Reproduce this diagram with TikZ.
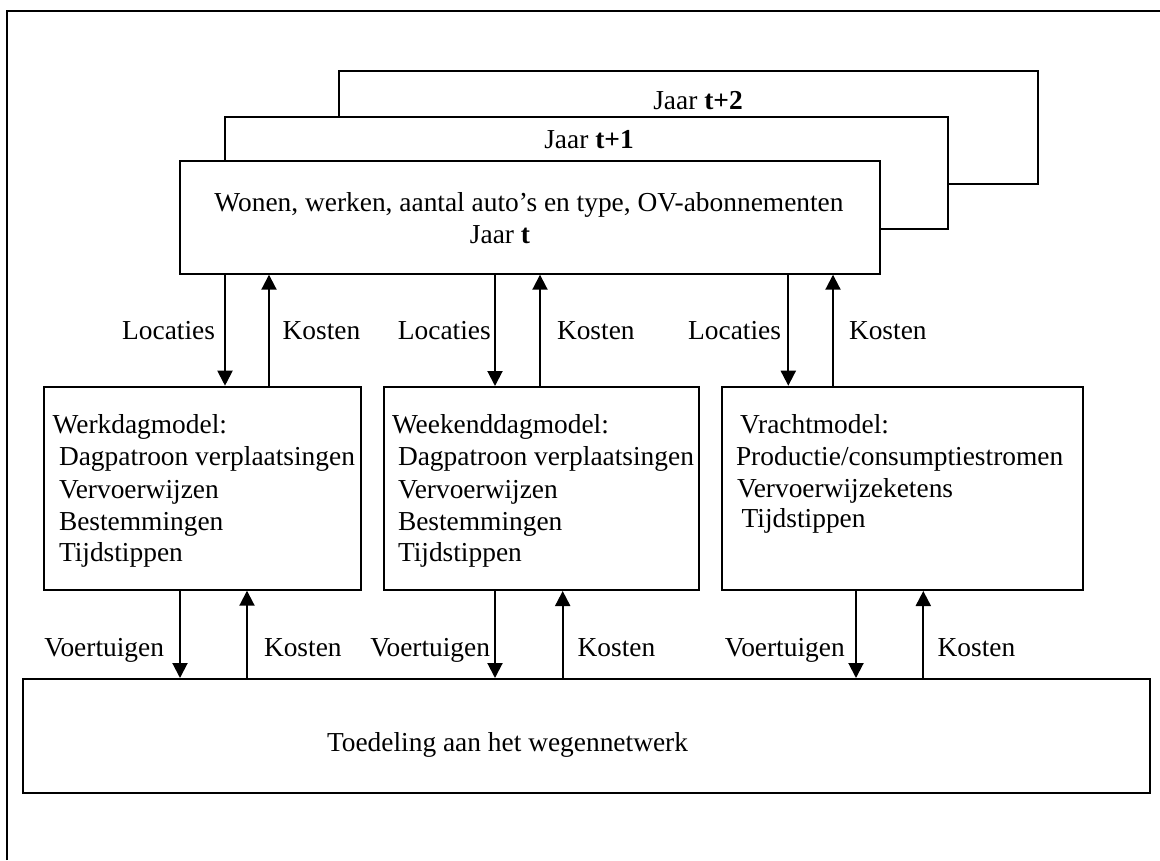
\documentclass[tikz,border=0pt]{standalone}
\usepackage{fontspec}
\setmainfont{Liberation Serif}
\usetikzlibrary{arrows.meta}
\begin{document}
\begin{tikzpicture}[x=1pt,y=-1pt,line width=2pt,
  box/.style={draw,fill=white,rectangle,inner sep=0pt,anchor=north west},
  txt/.style={inner sep=0pt,font=\fontsize{27.4}{33}\selectfont},
  tl/.style={txt,anchor=base west},
  tr/.style={txt,anchor=base east},
  tc/.style={txt,anchor=base},
  arr/.style={-{Triangle[length=15pt,width=15pt]}}]
\useasboundingbox (0,0) rectangle (1160,860);
% outer frame (top and left edges)
\coordinate (fbl) at (7,860);
\coordinate (ftl) at (7,11);
\coordinate (ftr) at (1160,11);
\draw (fbl) -- (ftl) -- (ftr);

% year boxes
\node[box,minimum width=699pt,minimum height=112.7pt] (t2box) at (337.7,70) {};
\node[box,minimum width=723pt,minimum height=112pt] (t1box) at (224,116) {};
\node[box,minimum width=700pt,minimum height=112.7pt] (tbox) at (179.3,160) {};
\node[tc] (t2lbl) at (698,109) {Jaar \textbf{t+2}};
\node[tc] (t1lbl) at (589,148) {Jaar \textbf{t+1}};
\node[tc] (tlbl1) at (529,211.7) {Wonen, werken, aantal auto’s en type, OV-abonnementen};
\node[tc] (tlbl2) at (500,243) {Jaar \textbf{t}};

% model boxes
\node[box,minimum width=316.7pt,minimum height=203pt] (werk) at (43.3,385.7) {};
\node[box,minimum width=315.6pt,minimum height=203pt] (weekend) at (382.7,386) {};
\node[box,minimum width=361.6pt,minimum height=203.3pt] (vracht) at (720.7,385.7) {};
\node[box,minimum width=1127.3pt,minimum height=114pt] (toed) at (21.7,678) {};

% model texts
\node[tl] (w1) at (51.7,433) {Werkdagmodel:};
\node[tl] (w2) at (58,465) {Dagpatroon verplaatsingen};
\node[tl] (w3) at (58,498) {Vervoerwijzen};
\node[tl] (w4) at (58,530) {Bestemmingen};
\node[tl] (w5) at (58,561) {Tijdstippen};
\node[tl] (e1) at (391,433) {Weekenddagmodel:};
\node[tl] (e2) at (397,465) {Dagpatroon verplaatsingen};
\node[tl] (e3) at (397,498) {Vervoerwijzen};
\node[tl] (e4) at (397,530) {Bestemmingen};
\node[tl] (e5) at (397,561) {Tijdstippen};
\node[tl] (v1) at (739,433) {Vrachtmodel:};
\node[tl] (v2) at (735,465) {Productie/consumptiestromen};
\node[tl] (v3) at (736,497.7) {Vervoerwijzeketens};
\node[tl] (v4) at (740.7,527) {Tijdstippen};
\node[tl] (tt) at (326,751) {Toedeling aan het wegennetwerk};

% arrow x positions
\coordinate (xL1) at (225,0);
\coordinate (xK1) at (269,0);
\coordinate (xL2) at (495,0);
\coordinate (xK2) at (540,0);
\coordinate (xL3) at (788.3,0);
\coordinate (xK3) at (833,0);
\coordinate (xV1) at (180,0);
\coordinate (xC1) at (247,0);
\coordinate (xV2) at (495,0);
\coordinate (xC2) at (562.7,0);
\coordinate (xV3) at (856,0);
\coordinate (xC3) at (923.3,0);

% upper arrows
\draw[arr] (tbox.south -| xL1) -- (werk.north -| xL1);
\draw[arr] (werk.north -| xK1) -- (tbox.south -| xK1);
\draw[arr] (tbox.south -| xL2) -- (weekend.north -| xL2);
\draw[arr] (weekend.north -| xK2) -- (tbox.south -| xK2);
\draw[arr] (tbox.south -| xL3) -- (vracht.north -| xL3);
\draw[arr] (vracht.north -| xK3) -- (tbox.south -| xK3);
% lower arrows
\draw[arr] (werk.south -| xV1) -- (toed.north -| xV1);
\draw[arr] (toed.north -| xC1) -- (werk.south -| xC1);
\draw[arr] (weekend.south -| xV2) -- (toed.north -| xV2);
\draw[arr] (toed.north -| xC2) -- (weekend.south -| xC2);
\draw[arr] (vracht.south -| xV3) -- (toed.north -| xV3);
\draw[arr] (toed.north -| xC3) -- (vracht.south -| xC3);

% arrow labels
\node[tr] (lL1) at (216,339) {Locaties};
\node[tl] (lK1) at (281.7,339) {Kosten};
\node[tr] (lL2) at (491.7,339) {Locaties};
\node[tl] (lK2) at (556,339) {Kosten};
\node[tr] (lL3) at (782,339) {Locaties};
\node[tl] (lK3) at (848,339) {Kosten};
\node[tr] (lV1) at (165,656.7) {Voertuigen};
\node[tl] (lC1) at (263,656.7) {Kosten};
\node[tr] (lV2) at (491,656.7) {Voertuigen};
\node[tl] (lC2) at (576.7,656.7) {Kosten};
\node[tr] (lV3) at (845.7,656.7) {Voertuigen};
\node[tl] (lC3) at (936.7,656.7) {Kosten};
\end{tikzpicture}
\end{document}
